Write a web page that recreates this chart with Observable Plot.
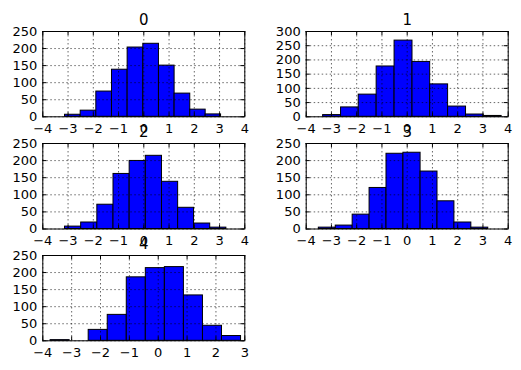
<!DOCTYPE html>
<html>
<head>
<meta charset="utf-8">
<script src="https://cdn.jsdelivr.net/npm/d3@7"></script>
<script src="https://cdn.jsdelivr.net/npm/@observablehq/plot@0.6"></script>
<style>
  html, body { margin: 0; padding: 0; background: white; }
  #chart { position: relative; width: 521px; height: 370px; }
  #chart svg { position: absolute; left: 0; top: 0; }
</style>
</head>
<body>
<div id="chart"></div>
<script>
// ---- data ----
const titles = ["0", "1", "2", "3", "4"];

const edges0 = [-3.12, -2.50, -1.88, -1.26, -0.64, -0.02, 0.60, 1.22, 1.84, 2.45, 3.06];
const counts0 = [6, 18, 74, 138, 203, 214, 150, 68, 21, 7];

const edges1 = [-3.33, -2.62, -1.92, -1.21, -0.50, 0.21, 0.91, 1.62, 2.33, 3.03, 3.74];
const counts1 = [6, 33, 78, 177, 268, 193, 114, 36, 8, 3];

const edges2 = [-3.12, -2.48, -1.84, -1.20, -0.56, 0.08, 0.72, 1.36, 1.99, 2.63, 3.27];
const counts2 = [7, 19, 71, 161, 199, 214, 138, 62, 16, 4];

const edges3 = [-3.50, -2.83, -2.16, -1.49, -0.82, -0.15, 0.53, 1.20, 1.87, 2.54, 3.21];
const counts3 = [4, 10, 42, 120, 220, 223, 168, 81, 19, 4];

const edges4 = [-3.73, -3.07, -2.41, -1.75, -1.09, -0.43, 0.23, 0.89, 1.55, 2.21, 2.87];
const counts4 = [2, 0, 32, 76, 186, 213, 216, 133, 44, 14];

const xTicksA = [-4, -3, -2, -1, 0, 1, 2, 3, 4];
const xTicksB = [-4, -3, -2, -1, 0, 1, 2, 3];
const yTicks250 = [0, 50, 100, 150, 200, 250];
const yTicks300 = [0, 50, 100, 150, 200, 250, 300];

// ---- layout ----
const W = 521, H = 370;
const panels = [
  {edges: edges0, counts: counts0, xt: xTicksA, yt: yTicks250, L: 42.3, R: 244.3, T: 31, B: 116.3},
  {edges: edges1, counts: counts1, xt: xTicksA, yt: yTicks300, L: 305.7, R: 507.7, T: 31, B: 116.3},
  {edges: edges2, counts: counts2, xt: xTicksA, yt: yTicks250, L: 42.3, R: 244.3, T: 143, B: 228.5},
  {edges: edges3, counts: counts3, xt: xTicksA, yt: yTicks250, L: 305.7, R: 507.7, T: 143, B: 228.5},
  {edges: edges4, counts: counts4, xt: xTicksB, yt: yTicks250, L: 42.3, R: 244.3, T: 255, B: 340.3}
];

const fmt = d3.format("d");
const chart = document.getElementById("chart");
panels.forEach((p, i) => {
  const bins = p.counts.map((c, j) => ({x1: p.edges[j], x2: p.edges[j + 1], y: c}));
  const pw = p.R - p.L, ph = p.B - p.T;
  const tl = 4;
  const svg = Plot.plot({
    width: W, height: H,
    marginLeft: p.L, marginRight: W - p.R, marginTop: p.T, marginBottom: H - p.B,
    style: {fontFamily: "DejaVu Sans", fontSize: "13px", background: "transparent", overflow: "visible"},
    x: {domain: [p.xt[0], p.xt[p.xt.length - 1]], label: null},
    y: {domain: [0, p.yt[p.yt.length - 1]], label: null},
    marks: [
      Plot.rectY(bins, {x1: "x1", x2: "x2", y: "y", fill: "#0000ff", stroke: "black", strokeWidth: 1}),
      Plot.gridX({ticks: p.xt, stroke: "black", strokeOpacity: 1, strokeWidth: 0.6, strokeDasharray: "1.5,2.5"}),
      Plot.gridY({ticks: p.yt, stroke: "black", strokeOpacity: 1, strokeWidth: 0.6, strokeDasharray: "1.5,2.5"}),
      Plot.tickX(p.xt, {x: d => d, insetTop: ph - tl, stroke: "black"}),
      Plot.tickX(p.xt, {x: d => d, insetBottom: ph - tl, stroke: "black"}),
      Plot.tickY(p.yt, {y: d => d, insetRight: pw - tl, stroke: "black"}),
      Plot.tickY(p.yt, {y: d => d, insetLeft: pw - tl, stroke: "black"}),
      Plot.frame({stroke: "black", strokeWidth: 1}),
      Plot.axisX({ticks: p.xt, tickFormat: fmt, tickSize: 0, tickPadding: 7, fontSize: 13, label: null}),
      Plot.axisY({ticks: p.yt, tickFormat: fmt, tickSize: 0, tickPadding: 5.5, fontSize: 13, label: null}),
      Plot.text([titles[i]], {frameAnchor: "top", text: d => d, dy: -7, lineAnchor: "bottom", fontSize: 15, fill: "black"})
    ]
  });
  chart.appendChild(svg);
});
</script>
</body>
</html>
